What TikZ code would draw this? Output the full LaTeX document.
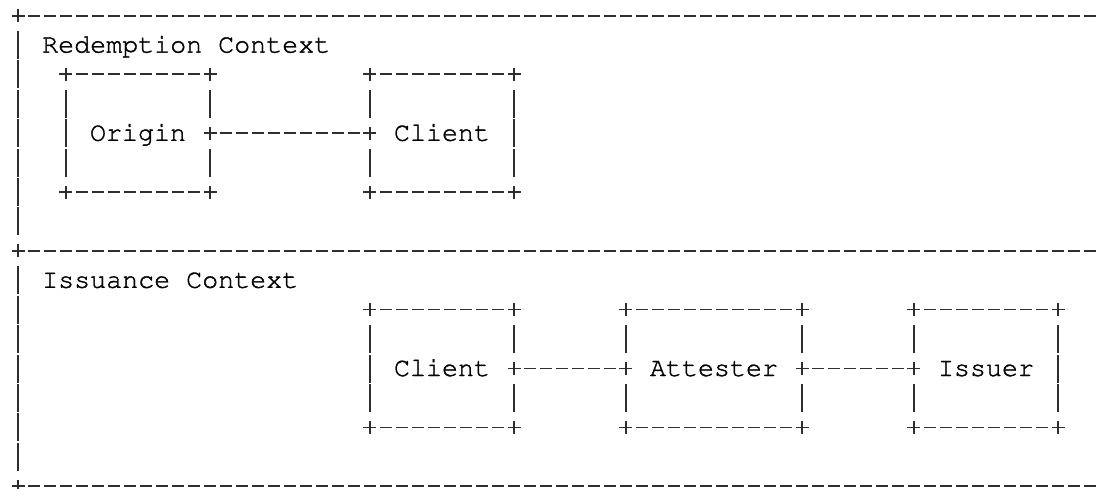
\documentclass[tikz,border=0pt]{standalone}
\usetikzlibrary{calc}
\newcommand\heavytext{\special{pdf:literal direct 0 G 0.35 w 2 Tr}}
\tikzset{
  ascii/.style={line width=1.9pt, draw=black!82, line cap=butt},
  hdash/.style={ascii, dash pattern=on 12pt off 4pt},
  mono/.style={font=\fontencoding{OT1}\fontfamily{pcr}\fontsize{26.67pt}{30pt}\selectfont\heavytext,
    text=black, inner sep=0pt, text height=15pt, text depth=0pt},
  asciibox/.style={mono, minimum height=117.6pt},
  pics/plus/.style={code={\draw[ascii] (-6.5pt,0) -- (6.5pt,0) (0,-6.5pt) -- (0,6.5pt);}},
  pics/vbar/.style={code={\draw[ascii] (0,-14pt) -- (0,14pt);}},
}
\newcommand\asciiframe[1]{%
  \draw[hdash] ([xshift=10pt]#1.north west) -- ([xshift=-10pt]#1.north east);
  \draw[hdash] ([xshift=10pt]#1.south west) -- ([xshift=-10pt]#1.south east);
  \pic at (#1.north west) {plus};
  \pic at (#1.north east) {plus};
  \pic at (#1.south west) {plus};
  \pic at (#1.south east) {plus};
}
\newcommand\sidebars[1]{%
  \pic at ([yshift=29.4pt]#1) {vbar};
  \pic at ([yshift=-29.4pt]#1) {vbar};
}
\begin{document}
\begin{tikzpicture}
\useasboundingbox (0,0) rectangle (1100pt,488pt);
\begin{scope}[shift={(18pt,472.3pt)}, x=16pt, y=-29.4pt]
  % context frame
  \coordinate (top0) at (0,0);
  \coordinate (topR) at (67,0);
  \coordinate (mid0) at (0,8);
  \coordinate (midR) at (67,8);
  \coordinate (bot0) at (0,16);
  \coordinate (botR) at (67,16);
  \draw[hdash] ([xshift=10pt]top0) -- ([xshift=6pt]topR);
  \draw[hdash] ([xshift=10pt]mid0) -- ([xshift=6pt]midR);
  \draw[hdash] ([xshift=10pt]bot0) -- ([xshift=6pt]botR);
  \pic at (top0) {plus};
  \pic at (mid0) {plus};
  \pic at (bot0) {plus};
  \foreach \r in {1,...,7,9,10,...,15} { \pic at (0,\r) {vbar}; }

  % labels
  \node[mono, anchor=west] (redctx) at (1.5,1) {Redemption Context};
  \node[mono, anchor=west] (issctx) at (1.5,9) {Issuance Context};

  % boxes
  \node[asciibox, minimum width=144pt] (origin) at (7.5,4) {Origin};
  \node[asciibox, minimum width=144pt] (rclient) at (26.5,4) {Client};
  \node[asciibox, minimum width=144pt] (iclient) at (26.5,12) {Client};
  \node[asciibox, minimum width=176pt] (attester) at (43.5,12) {Attester};
  \node[asciibox, minimum width=144pt] (issuer) at (60.5,12) {Issuer};

  \asciiframe{origin}
  \asciiframe{rclient}
  \asciiframe{iclient}
  \asciiframe{attester}
  \asciiframe{issuer}

  % box sides
  \sidebars{origin.west}   \pic at (origin.west) {vbar};
  \sidebars{origin.east}   \pic at (origin.east) {plus};
  \sidebars{rclient.west}  \pic at (rclient.west) {plus};
  \sidebars{rclient.east}  \pic at (rclient.east) {vbar};
  \sidebars{iclient.west}  \pic at (iclient.west) {vbar};
  \sidebars{iclient.east}  \pic at (iclient.east) {plus};
  \sidebars{attester.west} \pic at (attester.west) {plus};
  \sidebars{attester.east} \pic at (attester.east) {plus};
  \sidebars{issuer.west}   \pic at (issuer.west) {plus};
  \sidebars{issuer.east}   \pic at (issuer.east) {vbar};

  % connectors
  \draw[hdash] ([xshift=10pt]origin.east) -- ([xshift=-10pt]rclient.west);
  \draw[hdash] ([xshift=10pt]iclient.east) -- ([xshift=-10pt]attester.west);
  \draw[hdash] ([xshift=10pt]attester.east) -- ([xshift=-10pt]issuer.west);
\end{scope}
\end{tikzpicture}
\end{document}
